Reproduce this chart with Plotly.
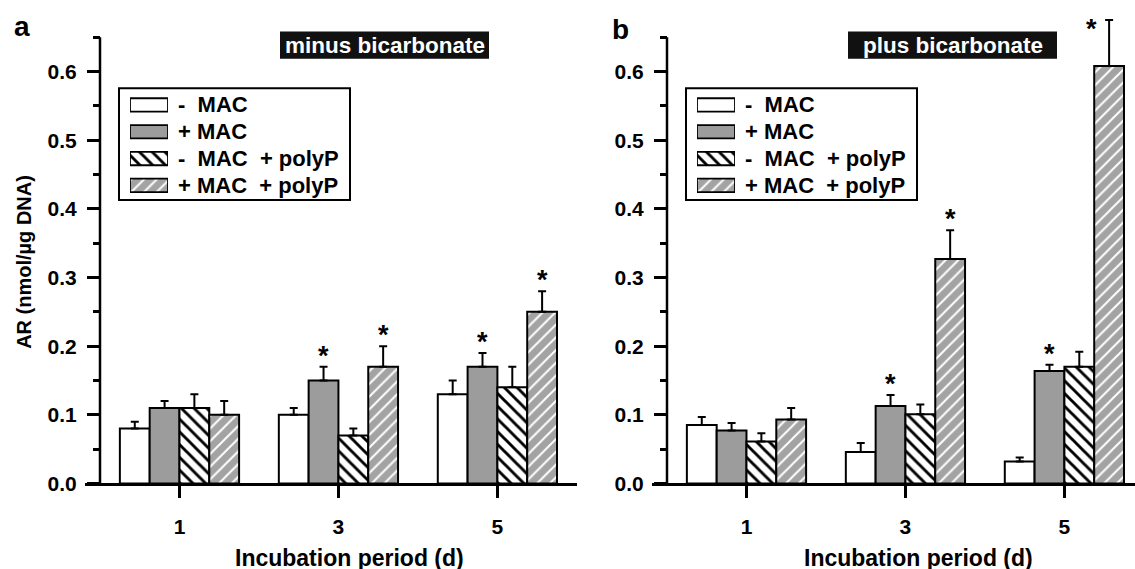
import plotly.graph_objects as go

# ---------------- data ----------------
DAYS = [1, 3, 5]
SERIES = ["-\u00a0\u00a0MAC", "+ MAC", "-\u00a0\u00a0MAC\u00a0\u00a0+ polyP", "+ MAC\u00a0\u00a0+ polyP"]

# panel a: minus bicarbonate
A_minus_mac = [0.08, 0.10, 0.13]
A_plus_mac = [0.11, 0.15, 0.17]
A_minus_mac_polyp = [0.11, 0.07, 0.14]
A_plus_mac_polyp = [0.10, 0.17, 0.25]
A_err_minus_mac = [0.010, 0.010, 0.020]
A_err_plus_mac = [0.010, 0.020, 0.020]
A_err_minus_mac_polyp = [0.020, 0.010, 0.030]
A_err_plus_mac_polyp = [0.020, 0.030, 0.030]
A_sig = [[False, False, False], [False, True, True], [False, False, False], [False, True, True]]

# panel b: plus bicarbonate
B_minus_mac = [0.085, 0.046, 0.032]
B_plus_mac = [0.077, 0.113, 0.164]
B_minus_mac_polyp = [0.061, 0.101, 0.170]
B_plus_mac_polyp = [0.093, 0.327, 0.608]
B_err_minus_mac = [0.012, 0.013, 0.006]
B_err_plus_mac = [0.011, 0.016, 0.009]
B_err_minus_mac_polyp = [0.012, 0.014, 0.022]
B_err_plus_mac_polyp = [0.017, 0.042, 0.067]
B_sig = [[False, False, False], [False, True, True], [False, False, False], [False, True, True]]

Y_TICKS = [0.0, 0.1, 0.2, 0.3, 0.4, 0.5, 0.6]

# ---------------- styling ----------------
W, H = 1135, 569
FONT = "Arial, Liberation Sans, sans-serif"
GRAY = "#9c9c9c"
STYLES = [
    dict(color="white", pattern=None),
    dict(color=GRAY, pattern=None),
    dict(color="white", pattern=dict(shape="\\", fgcolor="black", bgcolor="white", size=9, solidity=0.32, fillmode="replace")),
    dict(color="#a3a3a3", pattern=dict(shape="/", fgcolor="white", bgcolor="#a3a3a3", size=9, solidity=0.22, fillmode="replace")),
]
BAR_W = 0.375
OFFSETS = [-0.75 + i * BAR_W for i in range(4)]

def px_x(p):
    return p / W

def px_y(p):
    return 1 - p / H

PX_PER_UNIT = 79.48
Y_TOP = 0.695
Y0_PX = 493

panels = [
    dict(name="a", title="minus bicarbonate",
         vals=[A_minus_mac, A_plus_mac, A_minus_mac_polyp, A_plus_mac_polyp],
         errs=[A_err_minus_mac, A_err_plus_mac, A_err_minus_mac_polyp, A_err_plus_mac_polyp],
         sig=A_sig, xdom=(85, 577), yaxis_px=100, box=(280, 489), legend_left=119,
         letter=(22, 27), xtitle_c=349, show_ytitle=True),
    dict(name="b", title="plus bicarbonate",
         vals=[B_minus_mac, B_plus_mac, B_minus_mac_polyp, B_plus_mac_polyp],
         errs=[B_err_minus_mac, B_err_plus_mac, B_err_minus_mac_polyp, B_err_plus_mac_polyp],
         sig=B_sig, xdom=(652, 1135), yaxis_px=667, box=(848, 1057), legend_left=686,
         letter=(620, 30), xtitle_c=918, show_ytitle=False),
]

STAR_NUDGE = {("b", 3, 2): (-18, -20)}

fig = go.Figure()
layout = dict(
    width=W, height=H, margin=dict(l=0, r=0, t=0, b=0),
    paper_bgcolor="white", plot_bgcolor="rgba(0,0,0,0)",
    barmode="overlay", showlegend=False, hovermode=False,
    font=dict(family=FONT, color="black"),
)
shapes = []
annotations = []

ydom = [px_y(Y0_PX), px_y(Y0_PX - Y_TOP * 700)]


def ann(x, y, text, size, color="black", xanchor="center", yanchor="middle", **kw):
    d = dict(x=x, y=y, xref="paper", yref="paper", text=text, showarrow=False,
             xanchor=xanchor, yanchor=yanchor,
             font=dict(size=size, color=color, family=FONT, weight="bold"))
    d.update(kw)
    return d


for k, p in enumerate(panels):
    xa = "x" if k == 0 else "x2"
    ya = "y" if k == 0 else "y2"
    xkey = "xaxis" if k == 0 else "xaxis2"
    ykey = "yaxis" if k == 0 else "yaxis2"
    x0p, x1p = p["xdom"]
    xr0 = -(p["yaxis_px"] - x0p) / PX_PER_UNIT
    xr1 = xr0 + (x1p - x0p) / PX_PER_UNIT
    layout[xkey] = dict(
        domain=[px_x(x0p), px_x(x1p)], range=[xr0, xr1], anchor=ya,
        showline=True, linecolor="black", linewidth=2.5,
        tickmode="array", tickvals=DAYS, ticktext=[str(d) for d in DAYS],
        ticks="outside", ticklen=12, tickwidth=2.5, tickcolor="black",
        ticklabelstandoff=11,
        tickfont=dict(size=21, family=FONT, weight="bold"),
        showgrid=False, zeroline=False, fixedrange=True,
    )
    layout[ykey] = dict(
        domain=ydom, range=[0, Y_TOP], anchor="free", position=px_x(p["yaxis_px"]),
        showline=False, tickmode="array", tickvals=Y_TICKS,
        ticktext=[f"{v:.1f}" for v in Y_TICKS],
        ticks="outside", ticklen=13, tickwidth=2.5, tickcolor="black",
        ticklabelstandoff=6,
        minor=dict(dtick=0.05, tick0=0, ticks="outside", ticklen=7, tickwidth=2.5, tickcolor="black", showgrid=False),
        tickfont=dict(size=21, family=FONT, weight="bold"),
        showgrid=False, zeroline=False, fixedrange=True,
    )
    # y axis line from 0 to 0.65 at x = 0
    shapes.append(dict(type="line", xref=xa, yref=ya, x0=0, x1=0, y0=0, y1=0.65,
                       line=dict(color="black", width=2.5)))

    for i in range(4):
        st = STYLES[i]
        marker = dict(color=st["color"], line=dict(color="black", width=2))
        if st["pattern"]:
            marker["pattern"] = st["pattern"]
        fig.add_trace(go.Bar(
            x=DAYS, y=p["vals"][i], width=BAR_W, offset=OFFSETS[i],
            xaxis=xa, yaxis=ya, marker=marker,
            error_y=dict(type="data", array=p["errs"][i], arrayminus=[0] * len(DAYS),
                         symmetric=False, color="black", thickness=2, width=4),
        ))
        for j, d in enumerate(DAYS):
            if p["sig"][i][j]:
                dx, dy = STAR_NUDGE.get((p["name"], i, j), (0, 0))
                annotations.append(dict(
                    x=d + OFFSETS[i] + BAR_W / 2, y=p["vals"][i][j] + p["errs"][i][j],
                    xref=xa, yref=ya, text="*", showarrow=False,
                    xanchor="center", yanchor="middle",
                    xshift=dx, yshift=11 + dy,
                    font=dict(size=27, family=FONT, weight="bold"),
                ))

    # title box
    bx0, bx1 = p["box"]
    shapes.append(dict(type="rect", xref="paper", yref="paper",
                       x0=px_x(bx0), x1=px_x(bx1), y0=px_y(60), y1=px_y(32),
                       fillcolor="#111111", line=dict(width=0)))
    annotations.append(ann(px_x((bx0 + bx1) / 2), px_y(46), p["title"], 22.5, color="white"))
    # panel letter
    lx, ly = p["letter"]
    annotations.append(ann(px_x(lx), px_y(ly), p["name"], 28))
    # x title
    annotations.append(ann(px_x(p["xtitle_c"]), px_y(557), "Incubation period (d)", 23,
                           yshift=-12))
    if p["show_ytitle"]:
        annotations.append(ann(px_x(24), px_y(267), "AR (nmol/\u00b5g DNA)", 20, textangle=-90))

    # legend
    L = p["legend_left"]
    shapes.append(dict(type="rect", xref="paper", yref="paper",
                       x0=px_x(L), x1=px_x(L + 231), y0=px_y(204), y1=px_y(90),
                       line=dict(color="black", width=2), fillcolor="rgba(0,0,0,0)"))
    lxkey = "xaxis%d" % (3 + k)
    lykey = "yaxis%d" % (3 + k)
    lxa = "x%d" % (3 + k)
    lya = "y%d" % (3 + k)
    row0, rstep = 107, 27.33
    layout[lxkey] = dict(domain=[px_x(L + 11), px_x(L + 49)], range=[0, 1], visible=False,
                         anchor=lya, fixedrange=True)
    layout[lykey] = dict(domain=[px_y(row0 + 3.5 * rstep), px_y(row0 - 0.5 * rstep)],
                         range=[3.5, -0.5], visible=False, anchor=lxa, fixedrange=True)
    for i in range(4):
        st = STYLES[i]
        marker = dict(color=st["color"], line=dict(color="black", width=1.8))
        if st["pattern"]:
            marker["pattern"] = dict(st["pattern"])
        fig.add_trace(go.Bar(x=[1], y=[i], base=0, orientation="h", width=0.5,
                             xaxis=lxa, yaxis=lya, marker=marker))
        annotations.append(ann(px_x(L + 57), px_y(row0 + i * rstep), SERIES[i], 22, xanchor="left"))

layout["shapes"] = shapes
layout["annotations"] = annotations
fig.update_layout(**layout)
fig.write_html("out.html")
